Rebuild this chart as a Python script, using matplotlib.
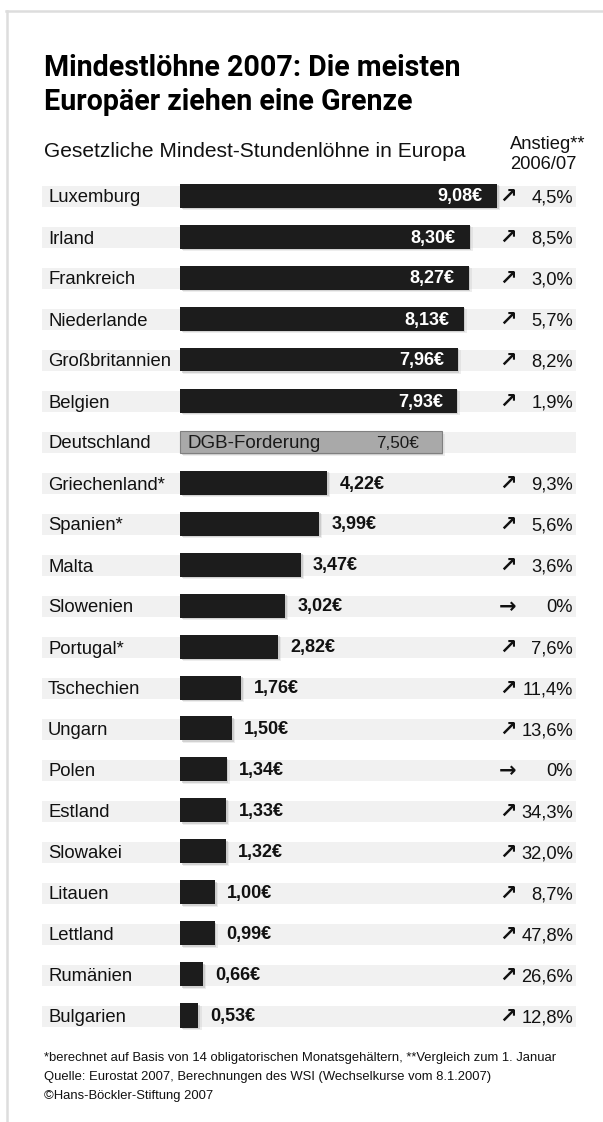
import matplotlib
matplotlib.use('Agg')
import matplotlib.pyplot as plt
import matplotlib.patheffects as pe
from matplotlib.transforms import blended_transform_factory
from matplotlib.lines import Line2D

# ---------------- data ----------------
countries = ['Luxemburg', 'Irland', 'Frankreich', 'Niederlande', 'Großbritannien',
             'Belgien', 'Deutschland', 'Griechenland*', 'Spanien*', 'Malta',
             'Slowenien', 'Portugal*', 'Tschechien', 'Ungarn', 'Polen', 'Estland',
             'Slowakei', 'Litauen', 'Lettland', 'Rumänien', 'Bulgarien']
wages = [9.08, 8.30, 8.27, 8.13, 7.96, 7.93, 7.50, 4.22, 3.99, 3.47, 3.02, 2.82,
         1.76, 1.50, 1.34, 1.33, 1.32, 1.00, 0.99, 0.66, 0.53]
changes = [4.5, 8.5, 3.0, 5.7, 8.2, 1.9, None, 9.3, 5.6, 3.6, 0.0, 7.6, 11.4,
           13.6, 0.0, 34.3, 32.0, 8.7, 47.8, 26.6, 12.8]
demand_country = 'Deutschland'
demand_label = 'DGB-Forderung'

title = 'Mindestlöhne 2007: Die meisten\nEuropäer ziehen eine Grenze'
subtitle = 'Gesetzliche Mindest-Stundenlöhne in Europa'
col_head = 'Anstieg**\n2006/07'
footer = ['*berechnet auf Basis von 14 obligatorischen Monatsgehältern, **Vergleich zum 1. Januar',
          'Quelle: Eurostat 2007, Berechnungen des WSI (Wechselkurse vom 8.1.2007)',
          '©Hans-Böckler-Stiftung 2007']

# ---------------- layout ----------------
W, H = 603, 1122
FONT = ['Liberation Sans', 'DejaVu Sans']
plt.rcParams['font.family'] = FONT

fig = plt.figure(figsize=(W / 100, H / 100), dpi=100)
fig.patch.set_facecolor('white')
ax = fig.add_axes([0, 0, 1, 1])
ax.axis('off')

PX_PER_EUR = 34.9
X0 = 180.0
ROW0 = 196.5
ROW_H = 41.0
ax.set_xlim(-X0 / PX_PER_EUR, (W - X0) / PX_PER_EUR)
ax.set_ylim((H - ROW0) / ROW_H, -ROW0 / ROW_H)

def fx(px):
    return px / W

def fy(py):
    return 1 - py / H

trans = blended_transform_factory(fig.transFigure, ax.transData)
u = 1.0 / ROW_H  # one pixel in row units
e = 1.0 / PX_PER_EUR  # one pixel in euro units

# border
fig.add_artist(Line2D([fx(6), fx(603)], [fy(11), fy(11)], color='#dddddd', lw=1.8))
fig.add_artist(Line2D([fx(7), fx(7)], [fy(11), fy(1122)], color='#dddddd', lw=1.8))

# header
fig.text(fx(44), fy(110), title, fontsize=20.6, fontweight='bold', ha='left',
         va='baseline', linespacing=1.25, family=['Roboto', 'Liberation Sans'])
fig.text(fx(44), fy(157), subtitle, fontsize=15.1, ha='left', va='baseline', color='#111111')
fig.text(fx(510), fy(169), col_head, fontsize=13.2, ha='left', va='baseline',
         linespacing=1.2, color='#111111')

shadow = [pe.SimplePatchShadow(offset=(1.2, -1.2), shadow_rgbFace='#999999', alpha=0.35),
          pe.SimplePatchShadow(offset=(2.2, -2.0), shadow_rgbFace='#bbbbbb', alpha=0.25),
          pe.Normal()]

for i, c in enumerate(countries):
    # light row strip
    ax.axhspan(i - 10.5 * u, i + 10.5 * u, xmin=42 / W, xmax=576 / W,
               color='#f1f1f1', zorder=0, lw=0)
    ax.text(fx(48), i + 6 * u, c, transform=trans, fontsize=13.3, ha='left',
            va='baseline', color='#111111')

for i, (c, w) in enumerate(zip(countries, wages)):
    label = f'{w:.2f}'.replace('.', ',') + '€'
    if c == demand_country:
        b = ax.barh(i - 0.5 * u, w, height=22 * u, left=0, color='#a9a9a9',
                    edgecolor='#808080', lw=0.8, zorder=2)
        for p in b:
            p.set_path_effects(shadow)
        ax.text(7 * e, i + 5 * u, demand_label, fontsize=13.5, ha='left',
                va='baseline', color='#1a1a1a', zorder=3)
        ax.text(w - 23 * e, i + 5 * u, label, fontsize=12.3, ha='right',
                va='baseline', color='#1a1a1a', zorder=3)
        continue
    b = ax.barh(i - 1 * u, w, height=24 * u, left=0, color='#1c1c1c', lw=0, zorder=2)
    for p in b:
        p.set_path_effects(shadow)
    if w > 5:
        ax.text(w - 14 * e, i + 5 * u, label, fontsize=13, fontweight='bold',
                ha='right', va='baseline', color='white', zorder=3)
    else:
        ax.text(w + 12 * e, i + 5 * u, label, fontsize=13, fontweight='bold',
                ha='left', va='baseline', color='#111111', zorder=3)

for i, ch in enumerate(changes):
    if ch is None:
        continue
    arrow = '→' if ch == 0 else '↗'
    txt = '0%' if ch == 0 else f'{ch:.1f}'.replace('.', ',') + '%'
    ax.text(fx(508), i + 0.5 * u, arrow, transform=trans, fontsize=15, fontweight='bold',
            ha='center', va='center', color='#111111', family=['DejaVu Sans'])
    ax.text(fx(573), i + 6 * u, txt, transform=trans, fontsize=13.2, ha='right',
            va='baseline', color='#111111')

# footer
for k, line in enumerate(footer):
    fig.text(fx(44), fy(1061 + 19 * k), line, fontsize=9.4, ha='left', va='baseline',
             color='#111111')

fig.savefig('out.png', dpi=100, facecolor='white')
